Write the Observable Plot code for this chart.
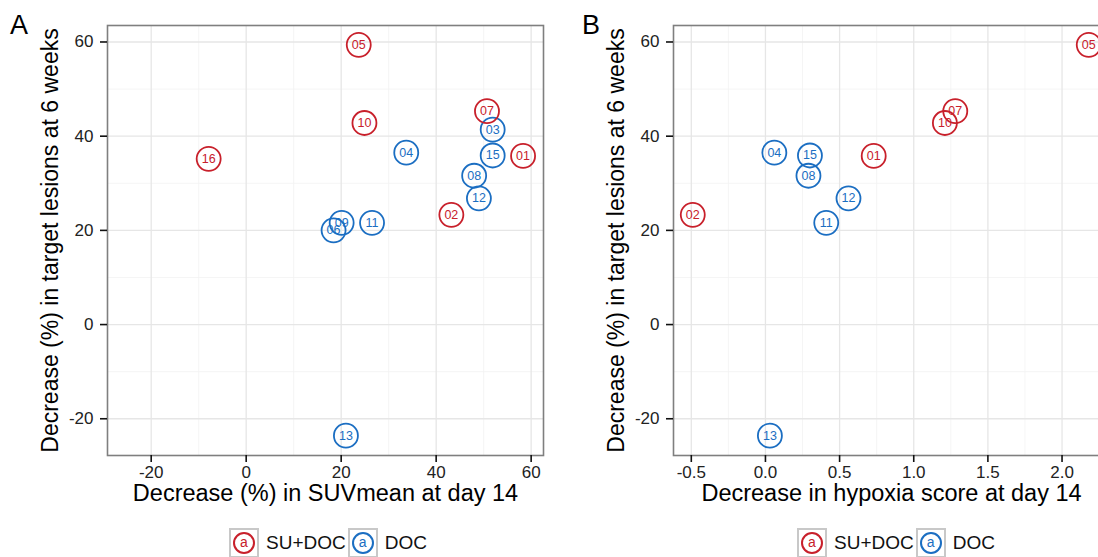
<!DOCTYPE html>
<html><head><meta charset="utf-8">
<script src="https://cdn.jsdelivr.net/npm/d3@7"></script>
<script src="https://cdn.jsdelivr.net/npm/@observablehq/plot@0.6"></script>
<style>
html,body{margin:0;padding:0;background:#fff;overflow:hidden;}
#wrap{position:relative;width:1098px;height:557px;overflow:hidden;font-family:"Liberation Sans",Arial,sans-serif;}
.panel{position:absolute;top:0;}
.tag{position:absolute;font-size:27px;color:#000;line-height:1;}
.legend{position:absolute;top:528px;display:flex;align-items:center;font-size:19px;color:#111;}
.key{width:30px;height:30px;box-sizing:border-box;border:2px solid #c8c8c8;display:flex;align-items:center;justify-content:center;}
.key span{width:22px;height:22px;border-radius:50%;border:2px solid;box-sizing:border-box;font-size:14px;display:flex;align-items:center;justify-content:center;line-height:1;padding-bottom:2px;}
.lab{margin:0 2px 0 7px;}
</style></head>
<body><div id="wrap"></div>
<script>
// ---- data ----
const ids = ["01","02","03","04","05","06","07","08","09","10","11","12","13","15","16"];
const groups = ["SU+DOC","SU+DOC","DOC","DOC","SU+DOC","DOC","SU+DOC","DOC","DOC","SU+DOC","DOC","DOC","DOC","DOC","SU+DOC"];
const suvDecrease = [58.3,43.2,51.9,33.7,23.7,18.4,50.7,48.0,20.1,24.9,26.5,49.0,21.0,51.9,-7.9];
const hypoxiaDecrease = [0.73,-0.49,null,0.06,2.18,null,1.28,0.29,null,1.21,0.41,0.56,0.03,0.30,null];
const lesionDecrease = [35.8,23.3,41.4,36.5,59.4,20.0,45.3,31.6,21.6,42.8,21.6,26.8,-23.6,35.9,35.2];
const groupNames = ["SU+DOC","DOC"];
const groupColors = ["#c8202b","#1b6ec2"];
const yTicks = [-20,0,20,40,60];
const yMinor = [-10,10,30,50];
const xTicksA = [-20,0,20,40,60];
const xMinorA = [-10,10,30,50];
const xTicksB = [-0.5,0,0.5,1,1.5,2];
const xMinorB = [-0.25,0.25,0.75,1.25,1.75,2.25];
const yTitle = "Decrease (%) in target lesions at 6 weeks";
const xTitleA = "Decrease (%) in SUVmean at day 14";
const xTitleB = "Decrease in hypoxia score at day 14";

const rows = ids.map((id,i)=>({id, group:groups[i], suv:suvDecrease[i], hyp:hypoxiaDecrease[i], lesion:lesionDecrease[i]}));
const FONT = '"Liberation Sans", Arial, sans-serif';

function panel(xKey, xDomain, xTicks, xMinor, xFmt, xTitle){
  const data = rows.filter(d => d[xKey] != null);
  return Plot.plot({
    width:549, height:520,
    marginLeft:107, marginRight:6, marginTop:25, marginBottom:65,
    style:{fontFamily:FONT, fontSize:"17px", color:"#222", background:"transparent", overflow:"visible"},
    x:{domain:xDomain}, y:{domain:[-27.8,63.5]},
    color:{domain:groupNames, range:groupColors},
    marks:[
      Plot.ruleX(xMinor,{stroke:"#f2f2f2", strokeWidth:0.8}),
      Plot.ruleY(yMinor,{stroke:"#f2f2f2", strokeWidth:0.8}),
      Plot.ruleX(xTicks,{stroke:"#e6e6e6", strokeWidth:1.3}),
      Plot.ruleY(yTicks,{stroke:"#e6e6e6", strokeWidth:1.3}),
      Plot.frame({stroke:"#7f7f7f", strokeWidth:1.6}),
      Plot.axisX({ticks:xTicks, tickFormat:xFmt, tickSize:7, tickPadding:3, strokeWidth:1.6, stroke:"#111", label:null}),
      Plot.axisY({ticks:yTicks, tickFormat:d=>String(d), tickSize:7, tickPadding:7, strokeWidth:1.6, stroke:"#111", label:null}),
      Plot.dot(data,{x:xKey, y:"lesion", r:12, stroke:"group", strokeWidth:1.8, fill:"none"}),
      Plot.text(data,{x:xKey, y:"lesion", text:"id", fill:"group", fontSize:12.5}),
      Plot.text([xTitle],{frameAnchor:"bottom", dy:45, fontSize:23.5, fill:"#000", textAnchor:"middle"}),
      Plot.text([yTitle],{frameAnchor:"left", rotate:-90, dx:-57, fontSize:23, fill:"#000", textAnchor:"middle"})
    ]
  });
}

const wrap = document.getElementById("wrap");
const pA = panel("suv", [-29.2,62.6], xTicksA, xMinorA, d=>String(d), xTitleA);
pA.classList.add("panel"); pA.style.left = "0px";
const pB = panel("hyp", [-0.62,2.32], xTicksB, xMinorB, d=>d.toFixed(1), xTitleB);
pB.classList.add("panel"); pB.style.left = "566px";
wrap.appendChild(pA); wrap.appendChild(pB);

function tag(t,x,y){const d=document.createElement("div");d.className="tag";d.textContent=t;d.style.left=x+"px";d.style.top=y+"px";wrap.appendChild(d);}
tag("A",10,12); tag("B",582,12);

function legend(x){
  const L=document.createElement("div"); L.className="legend"; L.style.left=x+"px";
  groupNames.forEach((g,i)=>{
    const k=document.createElement("div"); k.className="key";
    const s=document.createElement("span"); s.textContent="a"; s.style.color=groupColors[i]; s.style.borderColor=groupColors[i];
    k.appendChild(s); L.appendChild(k);
    const t=document.createElement("div"); t.className="lab"; t.textContent=g; L.appendChild(t);
  });
  wrap.appendChild(L);
}
legend(229); legend(797);
</script></body></html>
